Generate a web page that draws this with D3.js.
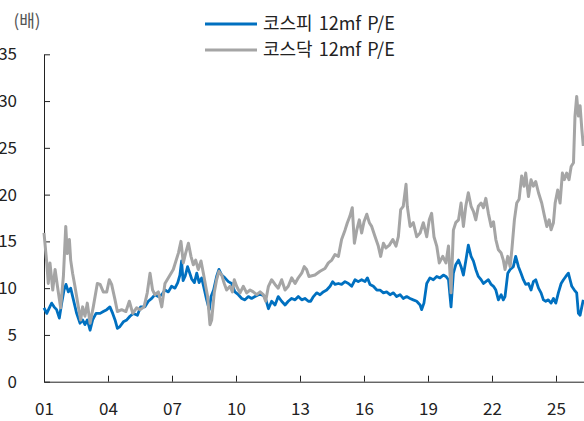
<!DOCTYPE html>
<html>
<head>
<meta charset="utf-8">
<script src="https://cdn.jsdelivr.net/npm/d3@7"></script>
<style>
  body { margin: 0; background: #fff; }
  svg text { font-family: "Noto Sans CJK KR", "Noto Sans", sans-serif; fill: #222; }
</style>
</head>
<body>
<div id="chart"></div>
<script>
// KOSPI 12mf P/E (decimal year, multiple)
var kospiYears = [2001.00,2001.13,2001.25,2001.36,2001.47,2001.59,2001.72,2001.83,2001.94,2002.03,2002.14,2002.25,2002.38,2002.53,2002.69,2002.81,2002.92,2003.03,2003.16,2003.28,2003.44,2003.63,2003.78,2003.94,2004.09,2004.22,2004.33,2004.44,2004.56,2004.72,2004.88,2005.03,2005.19,2005.38,2005.53,2005.73,2005.89,2006.05,2006.20,2006.36,2006.52,2006.67,2006.83,2006.98,2007.14,2007.27,2007.37,2007.45,2007.52,2007.62,2007.73,2007.92,2008.05,2008.16,2008.27,2008.39,2008.52,2008.62,2008.70,2008.75,2008.83,2008.95,2009.09,2009.20,2009.33,2009.48,2009.64,2009.80,2009.95,2010.11,2010.27,2010.42,2010.58,2010.73,2010.89,2011.05,2011.20,2011.36,2011.52,2011.67,2011.83,2011.98,2012.14,2012.30,2012.45,2012.61,2012.77,2012.92,2013.08,2013.23,2013.39,2013.50,2013.63,2013.78,2013.94,2014.09,2014.25,2014.41,2014.53,2014.64,2014.80,2014.95,2015.11,2015.27,2015.42,2015.58,2015.73,2015.89,2016.05,2016.16,2016.28,2016.44,2016.60,2016.75,2016.91,2017.06,2017.22,2017.38,2017.53,2017.69,2017.84,2018.00,2018.16,2018.31,2018.47,2018.63,2018.70,2018.81,2018.94,2019.09,2019.25,2019.41,2019.56,2019.72,2019.84,2019.96,2020.08,2020.19,2020.30,2020.43,2020.55,2020.66,2020.77,2020.89,2021.02,2021.13,2021.24,2021.36,2021.49,2021.60,2021.71,2021.83,2021.96,2022.07,2022.18,2022.30,2022.43,2022.53,2022.61,2022.74,2022.85,2023.00,2023.11,2023.24,2023.36,2023.47,2023.58,2023.71,2023.83,2023.94,2024.05,2024.18,2024.30,2024.41,2024.52,2024.64,2024.77,2024.88,2024.99,2025.11,2025.24,2025.35,2025.46,2025.58,2025.66,2025.74,2025.86,2025.97,2026.05,2026.13,2026.21,2026.28];
var kospiPE = [7.9,7.3,7.9,8.4,8.0,7.7,6.8,8.4,9.8,10.4,9.6,10.0,8.75,7.3,6.25,6.6,6.1,6.6,5.5,6.6,7.3,7.3,7.5,7.7,8.0,7.3,6.6,5.7,5.9,6.4,6.6,7.0,7.3,7.1,8.0,8.0,8.6,8.9,9.3,9.1,9.3,9.8,9.6,10.2,10.0,10.6,11.4,12.9,10.8,11.3,12.3,11.0,10.6,11.6,10.6,11.1,9.8,8.8,8.1,7.7,9.1,9.8,11.25,12.0,11.4,11.1,10.7,10.5,9.6,9.3,8.9,8.75,9.1,8.9,9.1,9.3,9.3,9.1,7.8,8.6,8.2,9.1,8.6,8.2,8.6,8.9,8.75,9.1,8.75,8.9,8.6,8.6,9.1,9.5,9.3,9.6,9.8,10.2,10.7,10.4,10.5,10.4,10.7,10.5,10.2,10.9,10.7,10.9,10.7,11.1,10.4,10.2,9.8,9.8,9.5,9.6,9.3,9.5,9.1,9.3,8.9,9.1,8.9,8.75,8.6,8.2,7.7,8.4,10.5,11.1,10.9,11.25,11.1,11.4,11.25,10.9,8.0,11.6,12.5,13.0,12.3,11.4,12.9,14.6,13.4,12.9,12.0,11.25,10.9,10.5,10.7,10.9,10.4,10.2,9.8,8.75,9.3,8.75,9.1,11.6,12.0,12.3,13.4,12.3,11.6,10.9,10.4,10.5,9.8,10.7,10.9,10.0,9.5,8.75,8.6,8.75,8.4,8.9,8.4,9.5,10.5,10.9,11.25,11.6,10.9,10.2,9.8,9.5,7.3,7.1,8.0,8.75];

// KOSDAQ 12mf P/E
var kosdaqYears = [2001.00,2001.13,2001.20,2001.28,2001.41,2001.52,2001.63,2001.78,2001.91,2002.02,2002.09,2002.19,2002.25,2002.34,2002.45,2002.61,2002.72,2002.81,2002.92,2003.03,2003.16,2003.31,2003.50,2003.63,2003.78,2003.94,2004.06,2004.17,2004.33,2004.44,2004.64,2004.84,2005.00,2005.16,2005.34,2005.50,2005.69,2005.84,2005.97,2006.09,2006.20,2006.36,2006.52,2006.67,2006.88,2007.06,2007.30,2007.42,2007.53,2007.64,2007.77,2007.89,2008.00,2008.11,2008.23,2008.36,2008.47,2008.58,2008.67,2008.78,2008.86,2008.98,2009.09,2009.20,2009.33,2009.45,2009.56,2009.72,2009.83,2009.92,2010.03,2010.19,2010.34,2010.50,2010.66,2010.81,2010.97,2011.13,2011.28,2011.39,2011.52,2011.67,2011.83,2011.98,2012.14,2012.30,2012.45,2012.61,2012.77,2012.92,2013.08,2013.20,2013.31,2013.42,2013.70,2013.94,2014.17,2014.33,2014.49,2014.64,2014.80,2014.95,2015.11,2015.22,2015.34,2015.45,2015.55,2015.66,2015.78,2015.89,2016.00,2016.13,2016.25,2016.36,2016.52,2016.67,2016.78,2016.91,2017.03,2017.19,2017.35,2017.50,2017.61,2017.72,2017.84,2017.97,2018.03,2018.16,2018.31,2018.47,2018.63,2018.78,2018.94,2019.06,2019.17,2019.28,2019.41,2019.53,2019.69,2019.84,2019.96,2020.08,2020.19,2020.30,2020.43,2020.55,2020.66,2020.77,2020.89,2021.02,2021.13,2021.24,2021.36,2021.49,2021.60,2021.71,2021.83,2021.96,2022.07,2022.18,2022.30,2022.43,2022.53,2022.61,2022.74,2022.85,2022.93,2023.05,2023.16,2023.27,2023.39,2023.50,2023.58,2023.71,2023.83,2023.94,2024.05,2024.18,2024.33,2024.46,2024.57,2024.68,2024.77,2024.88,2024.96,2025.08,2025.19,2025.30,2025.39,2025.50,2025.61,2025.71,2025.82,2025.89,2025.97,2026.05,2026.13,2026.21,2026.28];
var kosdaqPE = [15.9,12.7,10.5,12.7,9.8,12.0,10.2,7.9,11.3,16.6,13.7,15.2,13.0,11.6,10.2,8.0,6.6,8.0,7.0,8.4,6.25,8.0,10.5,10.4,9.6,9.6,10.9,10.4,8.75,7.5,7.7,7.5,8.6,7.3,7.9,7.7,8.0,9.5,11.6,9.8,9.3,9.6,8.0,10.5,11.3,12.0,13.75,15.0,12.7,13.75,14.8,13.4,12.5,13.0,12.0,12.9,11.6,10.2,9.1,6.1,6.6,9.5,10.9,11.8,11.4,10.5,9.8,10.2,9.6,10.9,10.2,9.5,10.2,9.5,9.8,9.6,9.3,9.6,9.3,8.6,10.2,10.9,10.4,10.0,10.9,9.8,10.2,11.1,10.5,11.1,11.6,12.3,12.0,11.25,11.4,11.8,12.1,12.7,13.0,13.6,13.4,15.2,16.2,17.0,17.7,18.6,14.8,16.2,17.3,15.9,17.1,17.9,17.0,16.6,15.5,14.5,13.4,14.8,14.3,14.6,15.2,14.5,15.5,18.4,18.75,21.1,18.75,16.6,17.0,15.5,15.9,17.0,15.5,17.3,18.0,15.5,14.5,12.7,13.4,12.7,14.5,9.5,16.2,17.0,17.3,19.1,16.6,18.75,20.2,18.75,18.2,17.3,18.75,19.1,18.6,19.6,18.0,16.6,17.1,15.2,14.1,13.75,13.0,12.0,13.4,12.3,14.1,17.3,19.1,19.5,22.0,20.9,22.3,19.8,21.6,20.9,21.4,20.2,19.1,17.7,16.6,17.3,16.25,17.0,19.1,20.5,19.1,22.3,21.6,22.3,21.6,23.0,23.4,28.4,30.5,28.4,29.5,27.0,25.2];

var seriesNames = ["코스피 12mf P/E", "코스닥 12mf P/E"];
var xTicks = [2001, 2004, 2007, 2010, 2013, 2016, 2019, 2022, 2025];
var yTicks = [0, 5, 10, 15, 20, 25, 30, 35];
var unitLabel = "(배)";

var width = 584, height = 421;
var margin = {top: 54.3, bottom: 39.3, left: 44, right: 0};
var colors = ["#0070C0", "#A5A5A5"];

var svg = d3.select("#chart").append("svg")
  .attr("width", width)
  .attr("height", height);

var xScale = d3.scaleLinear()
  .domain([2001, 2026.3125])
  .range([margin.left, width - margin.right]);

var yScale = d3.scaleLinear()
  .domain([0, 35])
  .range([height - margin.bottom, margin.top]);

var line = d3.line()
  .x(function(d){ return xScale(d[0]); })
  .y(function(d){ return yScale(d[1]); });

var kospi = kospiYears.map(function(y, i){ return [y, kospiPE[i]]; });
var kosdaq = kosdaqYears.map(function(y, i){ return [y, kosdaqPE[i]]; });

// axes
var xAxis = d3.axisBottom(xScale)
  .tickValues(xTicks)
  .tickFormat(function(d){ return d3.format("02d")(d % 100); })
  .tickSize(-6).tickSizeOuter(0).tickPadding(21);

var yAxis = d3.axisLeft(yScale)
  .tickValues(yTicks)
  .tickSize(-6).tickSizeOuter(0).tickPadding(27);

svg.append("g")
  .attr("class", "x-axis")
  .attr("transform", "translate(0," + (height - margin.bottom) + ")")
  .call(xAxis);

svg.append("g")
  .attr("class", "y-axis")
  .attr("transform", "translate(" + margin.left + ",0)")
  .call(yAxis);

svg.selectAll(".x-axis, .y-axis")
  .attr("font-family", null)
  .attr("font-size", null);
svg.selectAll(".x-axis text, .y-axis text").style("font-size", "17px");
svg.selectAll(".x-axis path, .y-axis path, .x-axis line, .y-axis line")
  .attr("stroke", "#222").attr("stroke-width", 1);

// lines
[kospi, kosdaq].forEach(function(s, i){
  svg.append("path")
    .datum(s)
    .attr("d", line)
    .attr("fill", "none")
    .attr("stroke", colors[i])
    .attr("stroke-width", i == 0 ? 2.8 : 3)
    .attr("stroke-linejoin", "round");
});

// unit label
svg.append("text")
  .attr("x", 27).attr("y", 21)
  .attr("dy", "0.35em")
  .attr("text-anchor", "middle")
  .style("font-size", "17px")
  .style("fill", "#555")
  .text(unitLabel);

// legend
var legend = svg.append("g").attr("class", "legend");
seriesNames.forEach(function(name, i){
  var ly = 24 + i * 26;
  legend.append("line")
    .attr("x1", 205).attr("x2", 257)
    .attr("y1", ly).attr("y2", ly)
    .attr("stroke", colors[i])
    .attr("stroke-width", 3);
  legend.append("text")
    .attr("x", 263).attr("y", ly)
    .attr("dy", "0.36em")
    .style("font-size", "18px")
    .style("word-spacing", "2px")
    .text(name);
});
</script>
</body>
</html>
